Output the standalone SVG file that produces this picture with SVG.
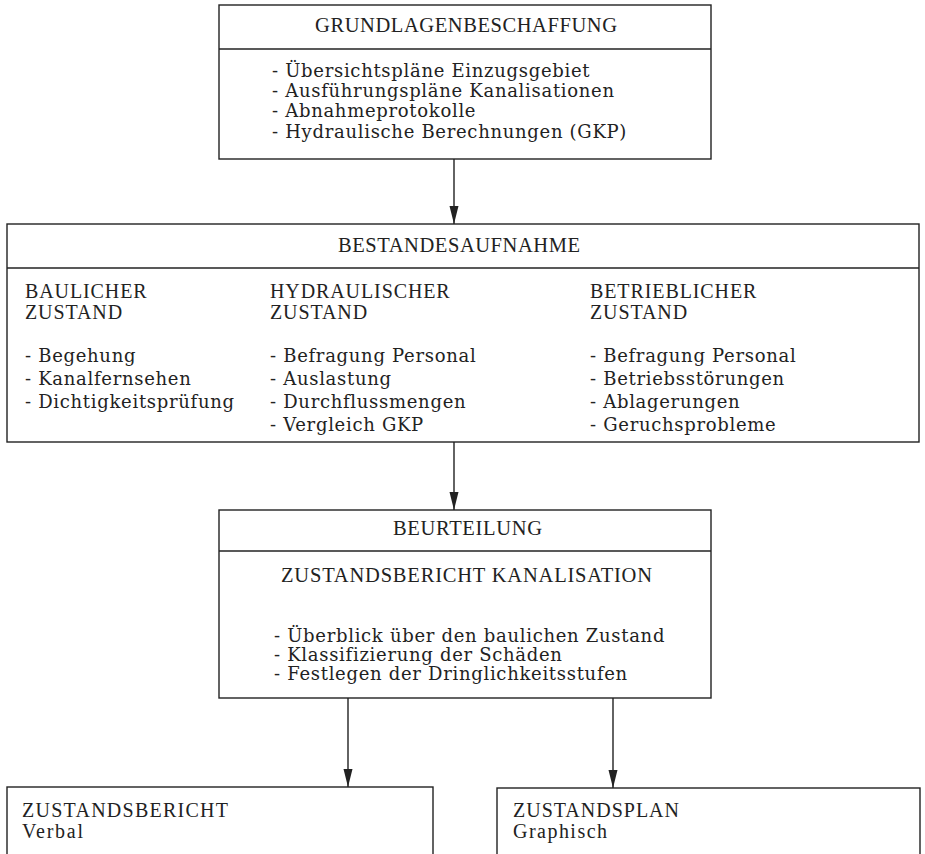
<svg xmlns="http://www.w3.org/2000/svg" width="925" height="854" viewBox="0 0 925 854">
<defs>
<marker id="arr" markerUnits="userSpaceOnUse" markerWidth="18" markerHeight="10" refX="18" refY="5" orient="auto">
<path d="M0,0.5 L18,5 L0,9.5 Z" fill="#222"/>
</marker>
<style>
.box{fill:none;stroke:#222;stroke-width:1.4}
.t{font-family:"DejaVu Serif","Liberation Serif",serif;font-size:18px;letter-spacing:0.7px;fill:#222}
.h{font-family:"Liberation Serif","DejaVu Serif",serif;font-size:20.5px;fill:#222}
.c{font-family:"Liberation Serif","DejaVu Serif",serif;font-size:20px;letter-spacing:0.9px;fill:#222}
.b{font-family:"Liberation Serif","DejaVu Serif",serif;font-size:20px;fill:#222}
.con{stroke:#222;stroke-width:1.4;fill:none}
</style>
</defs>
<rect width="925" height="854" fill="#fff"/>
<g id="grundlagen">
<rect class="box" x="219" y="5" width="492" height="154"/>
<line class="box" x1="219" y1="49" x2="711" y2="49"/>
<text class="h" x="315" y="32" textLength="302">GRUNDLAGENBESCHAFFUNG</text>
<text class="t" x="272" y="77">- Übersichtspläne Einzugsgebiet</text>
<text class="t" x="272" y="97">- Ausführungspläne Kanalisationen</text>
<text class="t" x="272" y="117">- Abnahmeprotokolle</text>
<text class="t" x="272" y="138">- Hydraulische Berechnungen (GKP)</text>
</g>
<g id="bestandesaufnahme">
<rect class="box" x="7" y="224" width="912" height="218"/>
<line class="box" x1="7" y1="268" x2="919" y2="268"/>
<text class="h" x="338" y="252" textLength="242">BESTANDESAUFNAHME</text>
<text class="c" x="25" y="298">BAULICHER</text>
<text class="c" x="25" y="319">ZUSTAND</text>
<text class="t" x="25" y="362">- Begehung</text>
<text class="t" x="25" y="385">- Kanalfernsehen</text>
<text class="t" x="25" y="408">- Dichtigkeitsprüfung</text>
<text class="c" x="270" y="298">HYDRAULISCHER</text>
<text class="c" x="270" y="319">ZUSTAND</text>
<text class="t" x="270" y="362">- Befragung Personal</text>
<text class="t" x="270" y="385">- Auslastung</text>
<text class="t" x="270" y="408">- Durchflussmengen</text>
<text class="t" x="270" y="431">- Vergleich GKP</text>
<text class="c" x="590" y="298">BETRIEBLICHER</text>
<text class="c" x="590" y="319">ZUSTAND</text>
<text class="t" x="590" y="362">- Befragung Personal</text>
<text class="t" x="590" y="385">- Betriebsstörungen</text>
<text class="t" x="590" y="408">- Ablagerungen</text>
<text class="t" x="590" y="431">- Geruchsprobleme</text>
</g>
<g id="beurteilung">
<rect class="box" x="219" y="510" width="492" height="188"/>
<line class="box" x1="219" y1="551" x2="711" y2="551"/>
<text class="h" x="393" y="535" textLength="149">BEURTEILUNG</text>
<text class="h" x="281" y="582" textLength="371">ZUSTANDSBERICHT  KANALISATION</text>
<text class="t" x="274" y="642">- Überblick über den baulichen Zustand</text>
<text class="t" x="274" y="661">- Klassifizierung der Schäden</text>
<text class="t" x="274" y="680">- Festlegen der Dringlichkeitsstufen</text>
</g>
<g id="zustandsbericht">
<rect class="box" x="7" y="787" width="426" height="80"/>
<text class="b" x="22" y="817" textLength="206">ZUSTANDSBERICHT</text>
<text class="b" x="22" y="838" textLength="61">Verbal</text>
</g>
<g id="zustandsplan">
<rect class="box" x="497" y="788" width="423" height="80"/>
<text class="b" x="513" y="817" textLength="166">ZUSTANDSPLAN</text>
<text class="b" x="513" y="838" textLength="94">Graphisch</text>
</g>
<g id="connectors">
<line class="con" x1="454" y1="159" x2="454" y2="224" marker-end="url(#arr)"/>
<line class="con" x1="454" y1="442" x2="454" y2="510" marker-end="url(#arr)"/>
<line class="con" x1="348" y1="698" x2="348" y2="787" marker-end="url(#arr)"/>
<line class="con" x1="613" y1="698" x2="613" y2="788" marker-end="url(#arr)"/>
</g>
</svg>
